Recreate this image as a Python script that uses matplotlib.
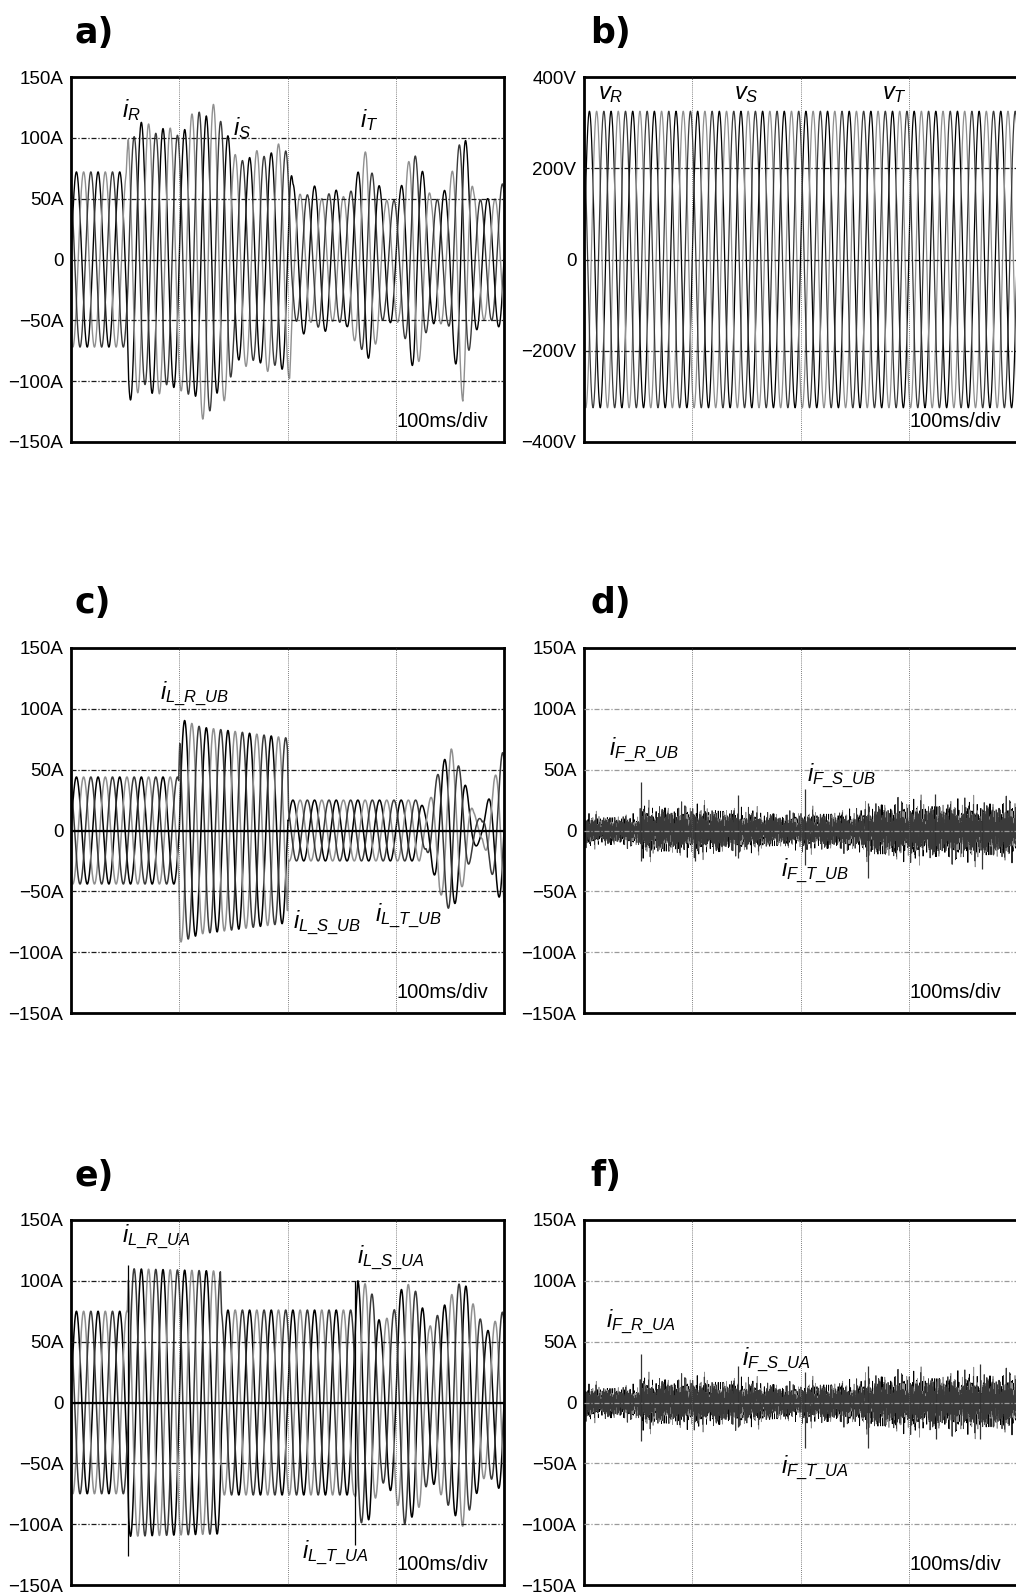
import numpy as np
import matplotlib
matplotlib.use("Agg")
import matplotlib.pyplot as plt

plt.rcParams["font.family"] = ["Liberation Sans", "DejaVu Sans"]
plt.rcParams["mathtext.fontset"] = "custom"
plt.rcParams["mathtext.it"] = "Liberation Sans:italic"
plt.rcParams["mathtext.rm"] = "Liberation Sans"

# ---- data ----
grid_hz = 50.0
phase_shift_deg = [0, -120, 120]          # R, S, T
trace_colors = ["black", "#909090", "#3a3a3a"]

# a) source currents: per-phase peak amplitude at knot times (ms)
a_t = [0, 51, 53, 75, 100, 125, 147, 150, 175, 202, 205, 230, 255, 273, 290, 303, 317, 333, 348, 362, 372, 385, 400]
a_R = [72, 72, 116, 110, 104, 118, 100, 82, 85, 92, 62, 60, 55, 85, 50, 55, 92, 52, 58, 112, 60, 50, 58]
a_S = [72, 72, 108, 112, 106, 135, 110, 86, 90, 98, 55, 50, 52, 91, 48, 52, 97, 50, 55, 117, 55, 48, 52]
a_T = [72, 72, 100, 104, 102, 128, 104, 80, 84, 90, 50, 56, 50, 82, 46, 50, 88, 48, 52, 108, 52, 46, 64]

# b) source voltages
b_t = [0, 400]
b_peak = [325, 325]

# c) load currents, unbalanced
c_t = [0, 99.5, 100.5, 120, 200, 201, 322, 328, 340, 351, 362, 372, 380, 390, 400]
c_pk = [44, 44, 92, 85, 76, 25, 25, 15, 50, 68, 45, 15, 8, 40, 68]

# d) filter currents, unbalanced: noise band half-width and spikes (ms, low, high)
d_t = [0, 51, 53, 120, 190, 205, 255, 265, 400]
d_band = [11, 11, 18, 17, 12, 14, 14, 20, 21]
d_spikes = [(53, -25, 40), (103, -25, 12), (142, -23, 29), (204, -28, 34), (262, -39, 23), (324, -18, 30), (368, -32, 18)]

# e) load currents, unbalanced + harmonics
e_t = [0, 52, 53, 138, 139, 262, 265, 276, 286, 298, 308, 320, 331, 345, 362, 372, 384, 400]
e_pk = [75, 75, 110, 108, 76, 76, 100, 96, 64, 75, 100, 90, 62, 80, 102, 80, 58, 76]
e_spikes = [(52.5, -126, 113), (262, -117, 100)]

# f) filter currents, unbalanced + harmonics
f_t = [0, 51, 53, 140, 200, 205, 255, 265, 400]
f_band = [12, 12, 18, 17, 12, 15, 15, 20, 21]
f_spikes = [(53, -32, 40), (142, -20, 30), (204, -37, 25), (262, -37, 30), (325, -30, 18), (366, -30, 32)]

# switching-ripple components used for the filter-current traces
ripple_hz = [1130, 1790, 2470, 3310, 4090, 5270, 6130, 7390]
ripple_amp = [0.9, 0.7, 1.0, 0.8, 0.6, 0.9, 0.5, 0.7]
ripple_phase = [0.0, 2.3, 4.1]

amp_ticks = [150, 100, 50, 0, -50, -100, -150]
amp_labels = ["150A", "100A", "50A", "0", "\u221250A", "\u2212100A", "\u2212150A"]
volt_ticks = [400, 200, 0, -200, -400]
volt_labels = ["400V", "200V", "0", "\u2212200V", "\u2212400V"]

t = np.linspace(0, 400, 16001)
tn = np.linspace(0, 400, 2601)   # scope sample points for the noisy filter currents


def sine_phase(k):
    return np.sin(2 * np.pi * grid_hz * t / 1000 + np.deg2rad(phase_shift_deg[k]))


def ripple(k):
    s = np.zeros_like(tn)
    for j, (f, a) in enumerate(zip(ripple_hz, ripple_amp)):
        s += a * np.sin(2 * np.pi * f * tn / 1000 + ripple_phase[k] * (j + 1))
    return s / (0.55 * sum(ripple_amp))


W, H = 1016, 1594
fig = plt.figure(figsize=(W / 100, H / 100), dpi=100)

col_x = [71, 584]
row_top = [77, 648, 1220]
ax_w, ax_h = 433, 365


def make_ax(col, row, volts=False, light=False):
    ax = fig.add_axes([col_x[col] / W, 1 - (row_top[row] + ax_h) / H, ax_w / W, ax_h / H])
    ax.set_xlim(0, 400)
    if volts:
        ax.set_ylim(-400, 400)
        ax.set_yticks(volt_ticks)
        ax.set_yticklabels(volt_labels)
        hl = [-200, 0, 200]
    else:
        ax.set_ylim(-150, 150)
        ax.set_yticks(amp_ticks)
        ax.set_yticklabels(amp_labels)
        hl = [-100, -50, 0, 50, 100]
    ax.set_xticks([])
    ax.tick_params(length=0, pad=5.5, labelsize=13.5)
    for sp in ax.spines.values():
        sp.set_linewidth(2)
    hcol = "#9a9a9a" if light else "#1a1a1a"
    for y in hl:
        ax.axhline(y, color=hcol, lw=0.9, ls=(0, (4, 1.5, 1, 1.5)), zorder=3)
    for x in [100, 200, 300]:
        ax.axvline(x, color="#555555", lw=0.6, ls=(0, (1, 1.5)), zorder=3)
    ax.text(0.7525, 0.041, "100ms/div", transform=ax.transAxes, fontsize=14.5, va="baseline", zorder=4)
    return ax


def label(ax, x, y, s):
    ax.text(x, y, s, fontsize=17, va="baseline", ha="left", zorder=5)


# a)
ax = make_ax(0, 0)
for k, env in enumerate([a_R, a_S, a_T]):
    ax.plot(t, np.interp(t, a_t, env) * sine_phase(k), color=trace_colors[k], lw=1.0)
label(ax, 47, 117, r"$i_R$")
label(ax, 150, 102, r"$i_S$")
label(ax, 267, 109, r"$i_T$")

# b)
ax = make_ax(1, 0, volts=True)
for k in range(3):
    ax.plot(t, np.interp(t, b_t, b_peak) * sine_phase(k), color=trace_colors[k], lw=0.9)
label(ax, 13, 352, r"$v_R$")
label(ax, 139, 352, r"$v_S$")
label(ax, 275, 352, r"$v_T$")

# c)
ax = make_ax(0, 1)
for k in range(3):
    ax.plot(t, np.interp(t, c_t, c_pk) * sine_phase(k), color=trace_colors[k], lw=1.1)
ax.axhline(0, color="black", lw=1.6, zorder=3)
label(ax, 82, 108, r"$i_{L\_R\_UB}$")
label(ax, 205, -80, r"$i_{L\_S\_UB}$")
label(ax, 281, -74, r"$i_{L\_T\_UB}$")

# d)
ax = make_ax(1, 1, light=True)
for k in range(3):
    ax.plot(tn, np.interp(tn, d_t, d_band) * ripple(k), color=trace_colors[k], lw=0.6)
ax.vlines([s[0] for s in d_spikes], [s[1] for s in d_spikes], [s[2] for s in d_spikes], color="#333333", lw=0.9)
label(ax, 23, 62, r"$i_{F\_R\_UB}$")
label(ax, 206, 41, r"$i_{F\_S\_UB}$")
label(ax, 182, -37, r"$i_{F\_T\_UB}$")

# e)
ax = make_ax(0, 2)
for k in range(3):
    ax.plot(t, np.interp(t, e_t, e_pk) * sine_phase(k), color=trace_colors[k], lw=1.1)
ax.vlines([s[0] for s in e_spikes], [s[1] for s in e_spikes], [s[2] for s in e_spikes], color="black", lw=0.9)
ax.axhline(0, color="black", lw=1.6, zorder=3)
label(ax, 47, 132, r"$i_{L\_R\_UA}$")
label(ax, 264, 115, r"$i_{L\_S\_UA}$")
label(ax, 213, -128, r"$i_{L\_T\_UA}$")

# f)
ax = make_ax(1, 2, light=True)
for k in range(3):
    ax.plot(tn, np.interp(tn, f_t, f_band) * ripple(k), color=trace_colors[k], lw=0.6)
ax.vlines([s[0] for s in f_spikes], [s[1] for s in f_spikes], [s[2] for s in f_spikes], color="#333333", lw=0.9)
label(ax, 20, 62, r"$i_{F\_R\_UA}$")
label(ax, 146, 31, r"$i_{F\_S\_UA}$")
label(ax, 182, -58, r"$i_{F\_T\_UA}$")

# panel letters
for s, x, yb in [("a)", 75, 43), ("b)", 590, 43), ("c)", 75, 613), ("d)", 590, 613), ("e)", 75, 1186), ("f)", 590, 1186)]:
    fig.text(x / W, 1 - yb / H, s, fontsize=25, fontweight="heavy", family="DejaVu Sans", va="baseline")

fig.savefig("out.png", dpi=100)
